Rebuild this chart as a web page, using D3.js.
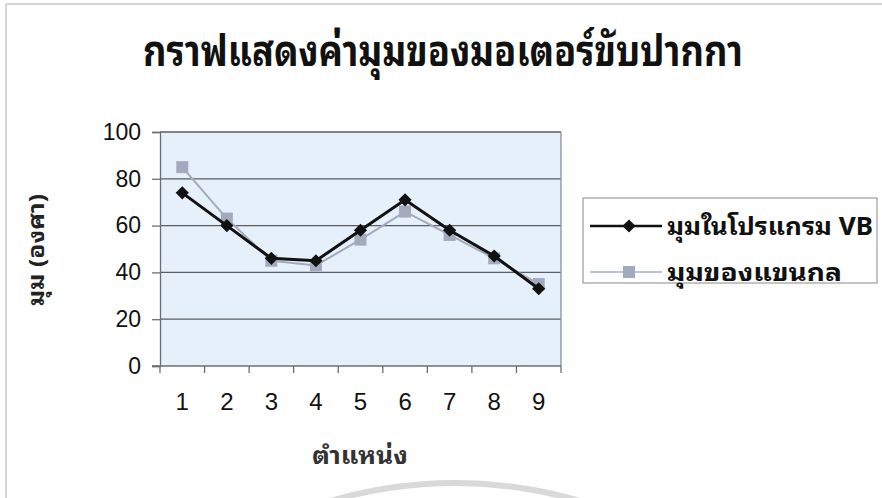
<!DOCTYPE html>
<html>
<head>
<meta charset="utf-8">
<script src="https://cdn.jsdelivr.net/npm/d3@7"></script>
<style>
  html, body { margin: 0; padding: 0; background: #fff; }
  svg { display: block; }
  .thai { font-family: "Noto Sans Thai Looped", "Loma", "Garuda", "Noto Sans Thai", "Noto Sans", "DejaVu Sans", sans-serif; }
  .num { font-family: "Liberation Sans", Arial, sans-serif; }
</style>
</head>
<body>
<svg id="chart" width="882" height="498"></svg>
<script>
// Chart data
const positions = ["1", "2", "3", "4", "5", "6", "7", "8", "9"];
const vbAngles = [74, 60, 46, 45, 58, 71, 58, 47, 33];
const armAngles = [85, 63, 45, 43, 54, 66, 56, 46, 35];
const yTicks = [0, 20, 40, 60, 80, 100];
const seriesNames = ["มุมในโปรแกรม VB", "มุมของแขนกล"];

const titleText = "กราฟแสดงค่ามุมของมอเตอร์ขับปากกา";
const yTitle = "มุม (องศา)";
const xTitle = "ตำแหน่ง";

const svg = d3.select("#chart");

// outer frame (top and left edges)
svg.append("line").attr("x1", 6).attr("x2", 882).attr("y1", 4).attr("y2", 4)
  .attr("stroke", "#c4c8cc").attr("stroke-width", 1.5);
svg.append("line").attr("x1", 6).attr("x2", 6).attr("y1", 4).attr("y2", 498)
  .attr("stroke", "#c4c8cc").attr("stroke-width", 1.5);

const plot = { left: 160, right: 561, top: 132, bottom: 366 };

const x = d3.scaleBand().domain(positions).range([plot.left, plot.right]).padding(0);
const y = d3.scaleLinear().domain([0, 100]).range([plot.bottom, plot.top]);

// plot background
svg.append("rect")
  .attr("x", plot.left).attr("y", plot.top)
  .attr("width", plot.right - plot.left).attr("height", plot.bottom - plot.top)
  .attr("fill", "#e6f0fb");

// horizontal gridlines
svg.append("g").selectAll("line").data(yTicks.filter(d => d > 0)).join("line")
  .attr("x1", plot.left).attr("x2", plot.right)
  .attr("y1", d => y(d)).attr("y2", d => y(d))
  .attr("stroke", "#5a5d62").attr("stroke-width", 1.3);

// right border of plot area
svg.append("line").attr("x1", plot.right).attr("x2", plot.right)
  .attr("y1", plot.top).attr("y2", plot.bottom)
  .attr("stroke", "#8a9099").attr("stroke-width", 1.3);

// y axis
const yAxis = svg.append("g").attr("transform", `translate(${plot.left},0)`)
  .call(d3.axisLeft(y).tickValues(yTicks).tickSize(8).tickPadding(11));
yAxis.select(".domain").attr("stroke", "#6a6e74").attr("stroke-width", 1.3);
yAxis.selectAll(".tick line").attr("stroke", "#6a6e74").attr("stroke-width", 1.3);
yAxis.selectAll("text").attr("class", "num").attr("font-size", 23).attr("fill", "#111");

// x axis: labels at category centres, ticks between categories
const xAxis = svg.append("g").attr("transform", `translate(0,${plot.bottom})`)
  .call(d3.axisBottom(x).tickSize(0).tickPadding(27));
xAxis.select(".domain").remove();
xAxis.selectAll("text").attr("class", "num").attr("font-size", 24).attr("fill", "#111");

const edges = positions.map(p => x(p)).concat([x(positions[positions.length - 1]) + x.bandwidth()]);
const xTickG = svg.append("g");
xTickG.append("line").attr("x1", plot.left - 8).attr("x2", plot.right)
  .attr("y1", plot.bottom).attr("y2", plot.bottom)
  .attr("stroke", "#6a6e74").attr("stroke-width", 1.3);
xTickG.selectAll("line.t").data(edges).join("line").attr("class", "t")
  .attr("x1", d => d).attr("x2", d => d)
  .attr("y1", plot.bottom).attr("y2", plot.bottom + 7)
  .attr("stroke", "#6a6e74").attr("stroke-width", 1.3);

const cx = d => x(d) + x.bandwidth() / 2;

// arm angle series (grey, squares)
const armColor = "#a3aabd";
svg.append("path")
  .datum(armAngles)
  .attr("fill", "none").attr("stroke", armColor).attr("stroke-width", 2)
  .attr("d", d3.line().x((d, i) => cx(positions[i])).y(d => y(d)));
svg.append("g").selectAll("rect").data(armAngles).join("rect")
  .attr("x", (d, i) => cx(positions[i]) - 6).attr("y", d => y(d) - 6)
  .attr("width", 12).attr("height", 12).attr("fill", armColor);

// VB series (black, diamonds)
svg.append("path")
  .datum(vbAngles)
  .attr("fill", "none").attr("stroke", "#111").attr("stroke-width", 3)
  .attr("d", d3.line().x((d, i) => cx(positions[i])).y(d => y(d)));
const diamond = d3.symbol().type(d3.symbolDiamond2).size(110);
svg.append("g").selectAll("path").data(vbAngles).join("path")
  .attr("transform", (d, i) => `translate(${cx(positions[i])},${y(d)})`)
  .attr("d", diamond).attr("fill", "#111");

// title
svg.append("text").attr("class", "thai")
  .attr("x", 143).attr("y", 66)
  .attr("font-size", 43).attr("font-weight", "bold").attr("fill", "#111")
  .attr("textLength", 600).attr("lengthAdjust", "spacingAndGlyphs")
  .text(titleText);

// axis titles
svg.append("text").attr("class", "thai")
  .attr("transform", "translate(44,250) rotate(-90)").attr("text-anchor", "middle")
  .attr("font-size", 22).attr("font-weight", "bold").attr("fill", "#222")
  .attr("textLength", 112).attr("lengthAdjust", "spacingAndGlyphs")
  .text(yTitle);
svg.append("text").attr("class", "thai")
  .attr("x", 312).attr("y", 464)
  .attr("font-size", 24).attr("font-weight", "bold").attr("fill", "#333")
  .attr("textLength", 96).attr("lengthAdjust", "spacingAndGlyphs")
  .text(xTitle);

// legend
const lg = svg.append("g");
lg.append("rect").attr("x", 583).attr("y", 198).attr("width", 294).attr("height", 85)
  .attr("fill", "#fff").attr("stroke", "#888").attr("stroke-width", 1);
const legendRows = [
  { name: seriesNames[0], color: "#111", width: 2.5, marker: "diamond", y: 226, len: 206 },
  { name: seriesNames[1], color: "#a3b0cc", width: 1.5, marker: "square", y: 272, len: 175 }
];
legendRows.forEach(r => {
  lg.append("line").attr("x1", 590).attr("x2", 662).attr("y1", r.y).attr("y2", r.y)
    .attr("stroke", r.color).attr("stroke-width", r.width);
  if (r.marker === "diamond") {
    lg.append("path").attr("transform", `translate(629,${r.y})`).attr("d", diamond).attr("fill", r.color);
  } else {
    lg.append("rect").attr("x", 623).attr("y", r.y - 6).attr("width", 12).attr("height", 12).attr("fill", armColor);
  }
  lg.append("text").attr("class", "thai").attr("x", 667).attr("y", r.y + 9)
    .attr("font-size", 25).attr("font-weight", "bold").attr("fill", "#111")
    .attr("textLength", r.len).attr("lengthAdjust", "spacingAndGlyphs")
    .text(r.name);
});

// faint arc along the bottom edge
svg.append("path")
  .attr("d", d3.arc().innerRadius(440).outerRadius(446).startAngle(-0.3).endAngle(0.6)())
  .attr("transform", "translate(455,926)")
  .attr("fill", "#d9d9d9");
</script>
</body>
</html>
